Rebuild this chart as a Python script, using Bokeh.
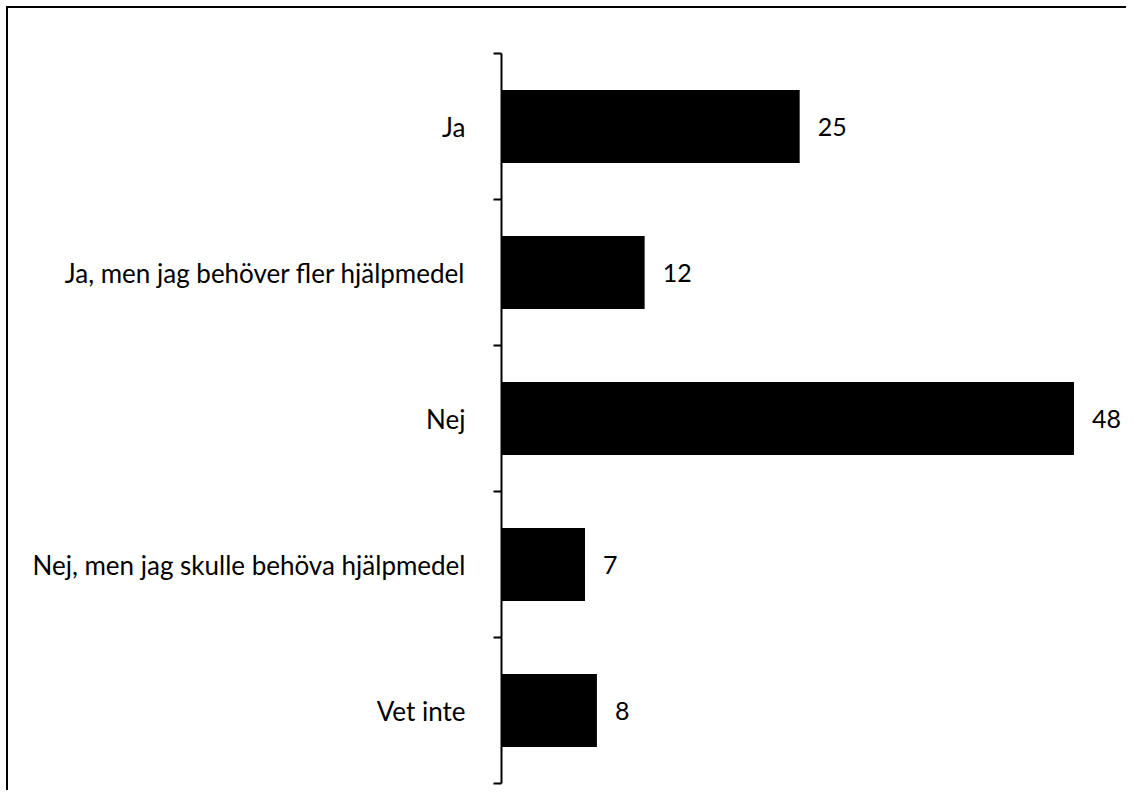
from bokeh.plotting import figure
from bokeh.models import Range1d, FixedTicker
from bokeh.core.properties import value
from bokeh.embed import file_html
from bokeh.resources import INLINE

categories = ["Ja", "Ja, men jag behöver fler hjälpmedel", "Nej",
              "Nej, men jag skulle behöva hjälpmedel", "Vet inte"]
values = [25, 12, 48, 7, 8]

n = len(categories)
centers = [n - 1 - i + 0.5 for i in range(n)]
labels = [str(v) for v in values]

FONT = "Lato"

p = figure(width=1126, height=790,
           x_range=Range1d(0, 52.4), y_range=Range1d(0, n),
           output_backend="svg", toolbar_location=None,
           min_border_left=501, min_border_right=0,
           min_border_top=53, min_border_bottom=7)
p.border_fill_color = None
p.background_fill_color = "white"
p.styles = {
    "background-color": "white",
    "background-image": "linear-gradient(#000,#000), linear-gradient(#000,#000)",
    "background-size": "2px 100%, 100% 2px",
    "background-position": "6px 6px, 6px 6px",
    "background-repeat": "no-repeat",
}
p.outline_line_color = None
p.xaxis.visible = False
p.xgrid.visible = False
p.ygrid.visible = False

p.hbar(y=centers, right=values, left=0, height=0.5,
       fill_color="black", line_color=None)
p.text(x=values, y=centers, text=labels, x_offset=18,
       text_align="left", text_baseline="middle",
       text_font=value(FONT), text_font_size="25px", text_color="black")

ax = p.yaxis[0]
ax.ticker = FixedTicker(ticks=centers, minor_ticks=list(range(n + 1)))
ax.major_label_overrides = {c: cat for c, cat in zip(centers, categories)}
ax.major_tick_line_color = None
ax.major_tick_in = 0
ax.major_tick_out = 0
ax.minor_tick_in = 0
ax.minor_tick_out = 8
ax.minor_tick_line_color = "black"
ax.minor_tick_line_width = 2
ax.axis_line_color = "black"
ax.axis_line_width = 2
ax.major_label_standoff = 28
ax.major_label_text_font = FONT
ax.major_label_text_font_size = "26px"
ax.major_label_text_color = "black"

open("out.html", "w").write(file_html(p, INLINE))
